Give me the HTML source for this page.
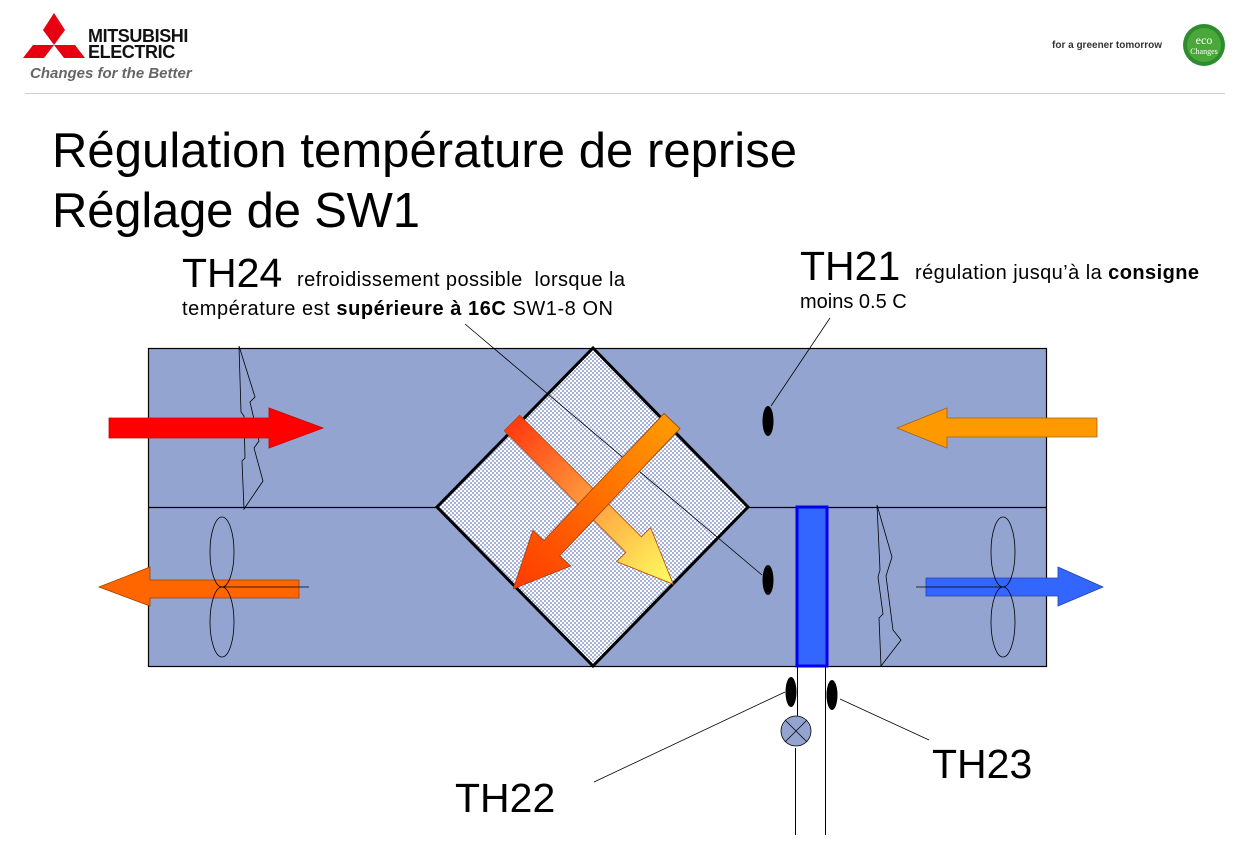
<!DOCTYPE html>
<html><head><meta charset="utf-8"><style>
html,body{margin:0;padding:0;background:#fff;}
svg{display:block;font-family:"Liberation Sans",Arial,sans-serif;}
</style></head><body>
<svg width="1259" height="867" viewBox="0 0 1259 867" xmlns="http://www.w3.org/2000/svg">
<defs>
<pattern id="chk" width="4" height="4" patternUnits="userSpaceOnUse">
<rect width="4" height="4" fill="#ffffff"/>
<rect width="2" height="2" fill="#a6b2dc"/>
<rect x="2" y="2" width="2" height="2" fill="#a6b2dc"/>
</pattern>
<linearGradient id="g1" x1="0" y1="0" x2="1" y2="0">
<stop offset="0" stop-color="#ff3a10"/><stop offset="0.5" stop-color="#ffa040"/><stop offset="1" stop-color="#ffff60"/>
</linearGradient>
<linearGradient id="g2" x1="0" y1="0" x2="1" y2="0">
<stop offset="0" stop-color="#ff9a00"/><stop offset="1" stop-color="#ff3a00"/>
</linearGradient>
</defs>

<!-- header -->
<polygon points="54,13 65,30 54,45 43,30" fill="#e60012"/>
<polygon points="54,45 44,58 23,58 33,45" fill="#e60012"/>
<polygon points="54,45 64,58 85,58 75,45" fill="#e60012"/>
<text x="88" y="42" font-size="18" font-weight="bold" letter-spacing="-0.4" fill="#111">MITSUBISHI</text>
<text x="88" y="58" font-size="18" font-weight="bold" letter-spacing="-0.4" fill="#111">ELECTRIC</text>
<text x="30" y="78" font-size="15" font-style="italic" font-weight="bold" fill="#666">Changes for the Better</text>
<text x="1052" y="48" font-size="10" font-weight="bold" fill="#333">for a greener tomorrow</text>
<circle cx="1204" cy="45" r="21" fill="#2e8b2e"/>
<circle cx="1204" cy="45" r="17" fill="#4aa83a"/>
<text x="1204" y="44" font-size="12" font-family="Liberation Serif,serif" fill="#fff" text-anchor="middle">eco</text>
<text x="1204" y="54" font-size="8" font-family="Liberation Serif,serif" fill="#fff" text-anchor="middle">Changes</text>
<line x1="25" y1="93.5" x2="1225" y2="93.5" stroke="#ccc" stroke-width="1"/>

<!-- titles -->
<text x="52" y="167" font-size="49" fill="#000" textLength="745">Régulation température de reprise</text>
<text x="52" y="227" font-size="49" fill="#000" textLength="368">Réglage de SW1</text>

<text x="182" y="287" font-size="41" fill="#000">TH24</text>
<text x="297" y="286" font-size="20" fill="#000" textLength="328" xml:space="preserve">refroidissement possible  lorsque la</text>
<text x="182" y="315" font-size="20" fill="#000" textLength="431">température est <tspan font-weight="bold">supérieure à 16C</tspan> SW1-8 ON</text>

<text x="800" y="280" font-size="41" fill="#000">TH21</text>
<text x="915" y="279" font-size="20" fill="#000" textLength="284">régulation jusqu’à la <tspan font-weight="bold">consigne</tspan></text>
<text x="800" y="308" font-size="20" fill="#000">moins 0.5 C</text>

<!-- box -->
<rect x="148.5" y="348.5" width="898" height="318" fill="#94a4d0" stroke="#000" stroke-width="1.2"/>
<line x1="148" y1="507.5" x2="1047" y2="507.5" stroke="#000" stroke-width="1.2"/>

<polyline points="239,346 255,397 250,402 259,441 254,448 263,481 244,509 242,461 245,458 244,416 241,412 239,346" fill="none" stroke="#000" stroke-width="0.8"/>
<polyline points="877,505 892,557 886,576 893,630 901,640 881,666 879,618 883,614 878,577 880,570 877,505" fill="none" stroke="#000" stroke-width="0.8"/>

<polygon points="109,418 269,418 269,408 323,428 269,448 269,438 109,438" fill="#ff0000" stroke="#c00" stroke-width="0.8"/>
<polygon points="1097,418 947,418 947,408 897,428 947,448 947,437 1097,437" fill="#ff9900" stroke="#a06020" stroke-width="0.8"/>

<polygon points="299,580 150,580 150,567 99,587 150,606 150,598 299,598" fill="#ff6600" stroke="#a04000" stroke-width="0.8"/>
<line x1="222" y1="587" x2="309" y2="587" stroke="#000" stroke-width="0.8"/>
<ellipse cx="222" cy="552" rx="12" ry="35" fill="none" stroke="#000" stroke-width="0.8"/>
<ellipse cx="222" cy="622" rx="12" ry="35" fill="none" stroke="#000" stroke-width="0.8"/>

<polygon points="926,578 1058,578 1058,567 1103,587 1058,606 1058,596 926,596" fill="#3366ff" stroke="#2244aa" stroke-width="0.8"/>
<line x1="916" y1="587" x2="1003" y2="587" stroke="#000" stroke-width="0.8"/>
<ellipse cx="1003" cy="552" rx="12" ry="35" fill="none" stroke="#000" stroke-width="0.8"/>
<ellipse cx="1003" cy="622" rx="12" ry="35" fill="none" stroke="#000" stroke-width="0.8"/>

<polygon points="593,348 748,507 593,666 437,507" fill="url(#chk)" stroke="#000" stroke-width="3"/>

<line x1="465" y1="324" x2="762" y2="575" stroke="#000" stroke-width="0.8"/>

<g transform="translate(512,423) rotate(45)">
<polygon points="0,-11 172,-11 172,-24 228,0 172,24 172,11 0,11" fill="url(#g1)" stroke="#c04000" stroke-width="0.8"/>
</g>
<g transform="translate(672,421) rotate(133.4)">
<polygon points="0,-11 175,-11 175,-26 231,0 175,26 175,11 0,11" fill="url(#g2)" stroke="#a04000" stroke-width="0.8"/>
</g>

<ellipse cx="768" cy="421" rx="5.5" ry="15" fill="#000"/>
<line x1="771" y1="406" x2="830" y2="318" stroke="#000" stroke-width="0.8"/>
<ellipse cx="768" cy="580" rx="5.5" ry="15" fill="#000"/>

<rect x="797" y="507" width="30" height="159" fill="#3366ff" stroke="#0000ee" stroke-width="3"/>

<line x1="797.5" y1="666" x2="797.5" y2="716" stroke="#000" stroke-width="1"/>
<line x1="795.5" y1="748" x2="795.5" y2="835" stroke="#000" stroke-width="1"/>
<line x1="825.5" y1="666" x2="825.5" y2="835" stroke="#000" stroke-width="1"/>
<circle cx="796" cy="731" r="15" fill="#94a4d0" stroke="#000" stroke-width="0.8"/>
<line x1="785" y1="720" x2="807" y2="742" stroke="#000" stroke-width="0.8"/>
<line x1="807" y1="720" x2="785" y2="742" stroke="#000" stroke-width="0.8"/>
<ellipse cx="791" cy="692" rx="5.5" ry="15" fill="#000"/>
<ellipse cx="832" cy="695" rx="5.5" ry="15" fill="#000"/>
<line x1="594" y1="782" x2="785" y2="692" stroke="#000" stroke-width="0.8"/>
<line x1="840" y1="699" x2="929" y2="740" stroke="#000" stroke-width="0.8"/>

<text x="455" y="812" font-size="41" fill="#000">TH22</text>
<text x="932" y="778" font-size="41" fill="#000">TH23</text>
</svg>
</body></html>
